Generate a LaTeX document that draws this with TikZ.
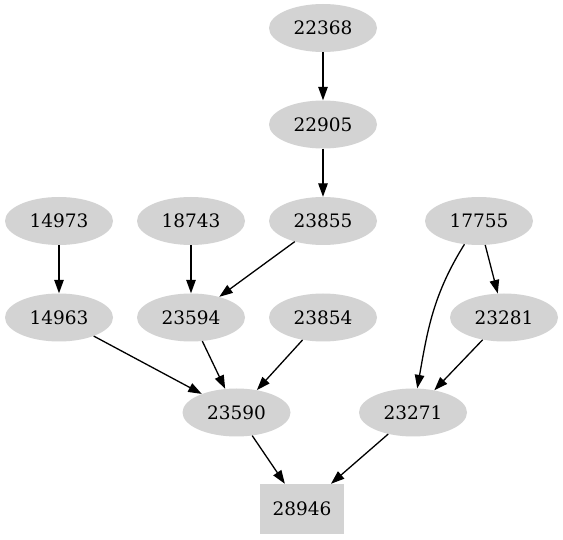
\documentclass[tikz,border=0pt]{standalone}
\usepackage{fontspec}
\setmainfont{DejaVu Serif}
\usetikzlibrary{shapes.geometric,arrows.meta}
\definecolor{nodegray}{HTML}{D3D3D3}
\tikzset{
  ell/.style={ellipse, fill=nodegray, minimum width=108pt, minimum height=48pt, inner sep=0pt, font=\fontsize{18.5}{22}\selectfont},
  boxnode/.style={rectangle, fill=nodegray, minimum width=84pt, minimum height=50pt, inner sep=0pt, font=\fontsize{18.5}{22}\selectfont},
  conn/.style={line width=1.3pt, -{Triangle[length=13.5pt,width=9.5pt]}}
}
\begin{document}
\begin{tikzpicture}[x=1pt,y=1pt]
\useasboundingbox (0,0) rectangle (563,539);
\node[ell] (a22368) at (323,511) {22368};
\node[ell] (a22905) at (323,414.5) {22905};
\node[ell] (a23855) at (323,318) {23855};
\node[ell] (a14973) at (59,318) {14973};
\node[ell] (a18743) at (191,318) {18743};
\node[ell] (a17755) at (479,318) {17755};
\node[ell] (a14963) at (59,221.5) {14963};
\node[ell] (a23594) at (191,221.5) {23594};
\node[ell] (a23854) at (323,221.5) {23854};
\node[ell] (a23281) at (504,221.5) {23281};
\node[ell] (a23590) at (236.5,126.5) {23590};
\node[ell] (a23271) at (413,126.5) {23271};
\node[boxnode] (a28946) at (302,30) {28946};
\draw[conn] (a22368) -- (a22905);
\draw[conn] (a22905) -- (a23855);
\draw[conn] (a14973) -- (a14963);
\draw[conn] (a18743) -- (a23594);
\draw[conn] (a23855) -- (a23594);
\draw[conn] (a17755) -- (a23281);
\draw[conn] (a17755) to[out=-122,in=80] (a23271);
\draw[conn] (a14963) -- (a23590);
\draw[conn] (a23594) -- (a23590);
\draw[conn] (a23854) -- (a23590);
\draw[conn] (a23281) -- (a23271);
\draw[conn] (a23590) -- (a28946);
\draw[conn] (a23271) -- (a28946);
\end{tikzpicture}
\end{document}
